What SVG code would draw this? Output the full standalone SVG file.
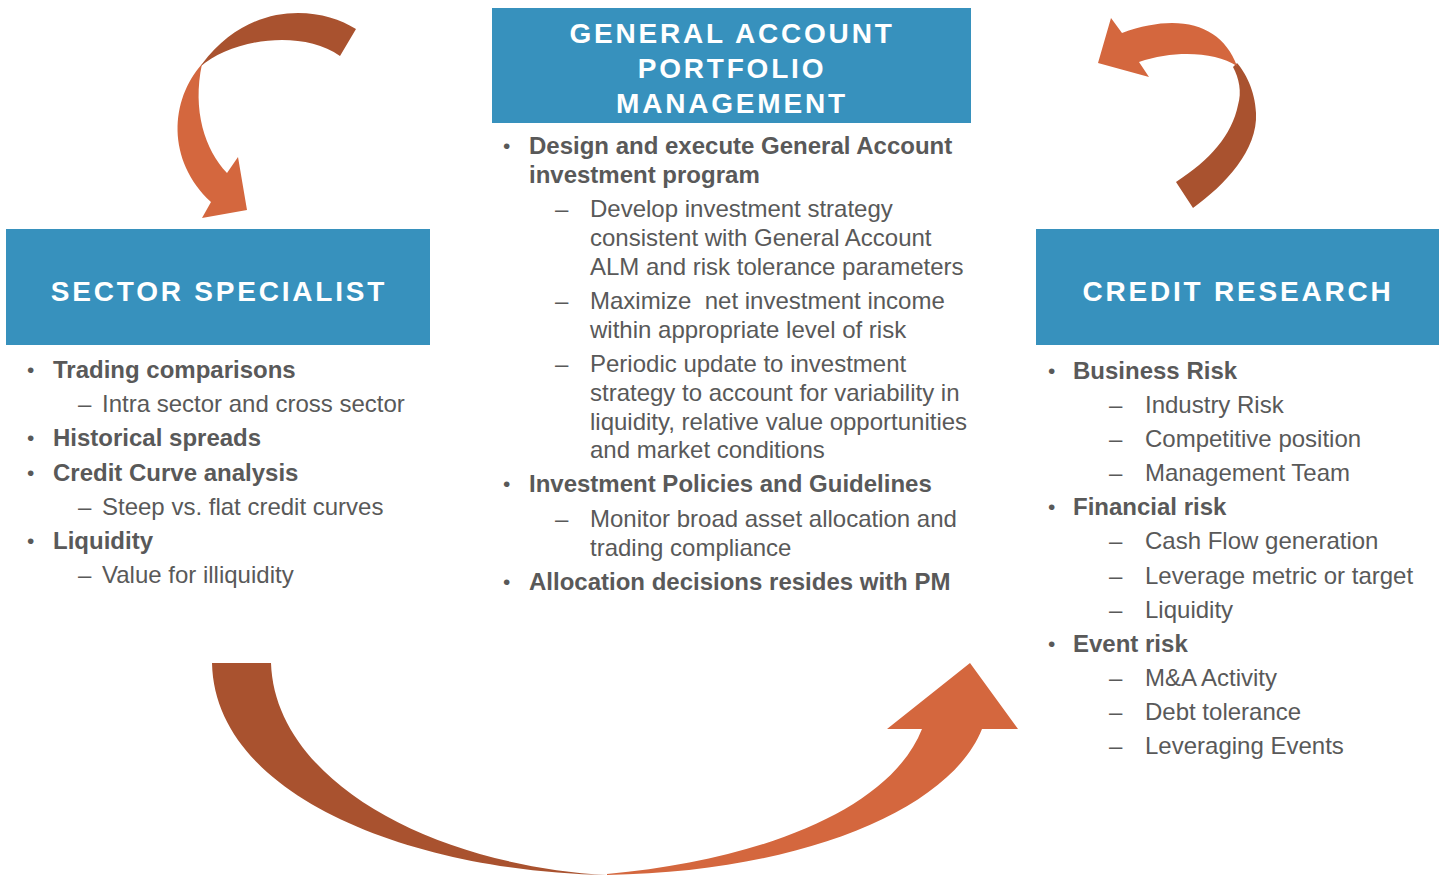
<svg xmlns="http://www.w3.org/2000/svg" width="1445" height="878" viewBox="0 0 1445 878">
<style>
.box{fill:#3791BD}
.hdr{font-family:"Liberation Sans",Arial,sans-serif;font-weight:bold;font-size:28px;fill:#FFFFFF;letter-spacing:2.8px;text-anchor:middle}
.b{font-family:"Liberation Sans",Arial,sans-serif;font-weight:bold;font-size:24px;fill:#595959}
.t{font-family:"Liberation Sans",Arial,sans-serif;font-size:24px;fill:#595959;white-space:pre}
.bul{font-family:"Liberation Sans",Arial,sans-serif;font-size:21px;fill:#595959}
.dk{fill:#A9522F}
.lt{fill:#D4673E}
</style>
<rect width="1445" height="878" fill="#FFFFFF"/>
<g id="connectors">
  <g id="arrow-top-left">
    <path class="dk" d="M356,29 C320,6 250,0 202,64 L200,67 C230,40 300,28 340,56 Z"/>
    <path class="lt" d="M202,64 C170,100 166,160 211,202 L202,218 L247,210 L238,157 L227,173 C205,150 192,110 202,64 Z"/>
  </g>
  <g id="arrow-top-right">
    <path class="dk" d="M1176,182 L1193,208 C1225,185 1258,150 1256,113 C1255,90 1245,72 1237,63 L1233,67 C1239,78 1242,92 1238,105 C1232,135 1210,160 1176,182 Z"/>
    <path class="lt" d="M1237,66 C1222,25 1180,12 1122,33 L1111,18 L1098,63 L1149,77 L1139,62 C1175,50 1215,52 1237,66 Z"/>
  </g>
  <g id="arrow-bottom">
    <path class="dk" d="M212,663 L271,663 C275,780 430,865 607,875 C420,872 215,800 212,663 Z"/>
    <path class="lt" d="M607,875 C800,872 950,810 982,729 L1018,729 L970,663 L887,729 L922,729 C890,810 760,860 607,874 Z"/>
  </g>
</g>
<g id="node-general-account">
  <rect class="box" x="492" y="8" width="479" height="115"/>
  <text class="hdr" x="732" y="43">GENERAL ACCOUNT</text>
  <text class="hdr" x="732" y="78">PORTFOLIO</text>
  <text class="hdr" x="732" y="113">MANAGEMENT</text>
</g>
<g id="node-sector-specialist">
  <rect class="box" x="6" y="229" width="424" height="116"/>
  <text class="hdr" x="219" y="301">SECTOR SPECIALIST</text>
</g>
<g id="node-credit-research">
  <rect class="box" x="1036" y="229" width="403" height="116"/>
  <text class="hdr" x="1238" y="301">CREDIT RESEARCH</text>
</g>
<g id="list-general-account">
  <text class="bul" x="503" y="153">•</text>
  <text class="b" x="529" y="154">Design and execute General Account</text>
  <text class="b" x="529" y="183">investment program</text>
  <text class="t" x="555" y="217">–</text>
  <text class="t" x="590" y="217">Develop investment strategy</text>
  <text class="t" x="590" y="246">consistent with General Account</text>
  <text class="t" x="590" y="275">ALM and risk tolerance parameters</text>
  <text class="t" x="555" y="309">–</text>
  <text class="t" x="590" y="309">Maximize  net investment income</text>
  <text class="t" x="590" y="338">within appropriate level of risk</text>
  <text class="t" x="555" y="372">–</text>
  <text class="t" x="590" y="372">Periodic update to investment</text>
  <text class="t" x="590" y="401">strategy to account for variability in</text>
  <text class="t" x="590" y="430">liquidity, relative value opportunities</text>
  <text class="t" x="590" y="458">and market conditions</text>
  <text class="bul" x="503" y="491">•</text>
  <text class="b" x="529" y="492">Investment Policies and Guidelines</text>
  <text class="t" x="555" y="527">–</text>
  <text class="t" x="590" y="527">Monitor broad asset allocation and</text>
  <text class="t" x="590" y="556">trading compliance</text>
  <text class="bul" x="503" y="589">•</text>
  <text class="b" x="529" y="590">Allocation decisions resides with PM</text>
</g>
<g id="list-sector-specialist">
  <text class="bul" x="27" y="377">•</text>
  <text class="b" x="53" y="378">Trading comparisons</text>
  <text class="t" x="78" y="412">–</text>
  <text class="t" x="102" y="412">Intra sector and cross sector</text>
  <text class="bul" x="27" y="445">•</text>
  <text class="b" x="53" y="446">Historical spreads</text>
  <text class="bul" x="27" y="480">•</text>
  <text class="b" x="53" y="481">Credit Curve analysis</text>
  <text class="t" x="78" y="515">–</text>
  <text class="t" x="102" y="515">Steep vs. flat credit curves</text>
  <text class="bul" x="27" y="548">•</text>
  <text class="b" x="53" y="549">Liquidity</text>
  <text class="t" x="78" y="583">–</text>
  <text class="t" x="102" y="583">Value for illiquidity</text>
</g>
<g id="list-credit-research">
  <text class="bul" x="1048" y="378">•</text>
  <text class="b" x="1073" y="379">Business Risk</text>
  <text class="t" x="1109" y="413">–</text>
  <text class="t" x="1145" y="413">Industry Risk</text>
  <text class="t" x="1109" y="447">–</text>
  <text class="t" x="1145" y="447">Competitive position</text>
  <text class="t" x="1109" y="481">–</text>
  <text class="t" x="1145" y="481">Management Team</text>
  <text class="bul" x="1048" y="514">•</text>
  <text class="b" x="1073" y="515">Financial risk</text>
  <text class="t" x="1109" y="549">–</text>
  <text class="t" x="1145" y="549">Cash Flow generation</text>
  <text class="t" x="1109" y="584">–</text>
  <text class="t" x="1145" y="584">Leverage metric or target</text>
  <text class="t" x="1109" y="618">–</text>
  <text class="t" x="1145" y="618">Liquidity</text>
  <text class="bul" x="1048" y="651">•</text>
  <text class="b" x="1073" y="652">Event risk</text>
  <text class="t" x="1109" y="686">–</text>
  <text class="t" x="1145" y="686">M&amp;A Activity</text>
  <text class="t" x="1109" y="720">–</text>
  <text class="t" x="1145" y="720">Debt tolerance</text>
  <text class="t" x="1109" y="754">–</text>
  <text class="t" x="1145" y="754">Leveraging Events</text>
</g>
</svg>
